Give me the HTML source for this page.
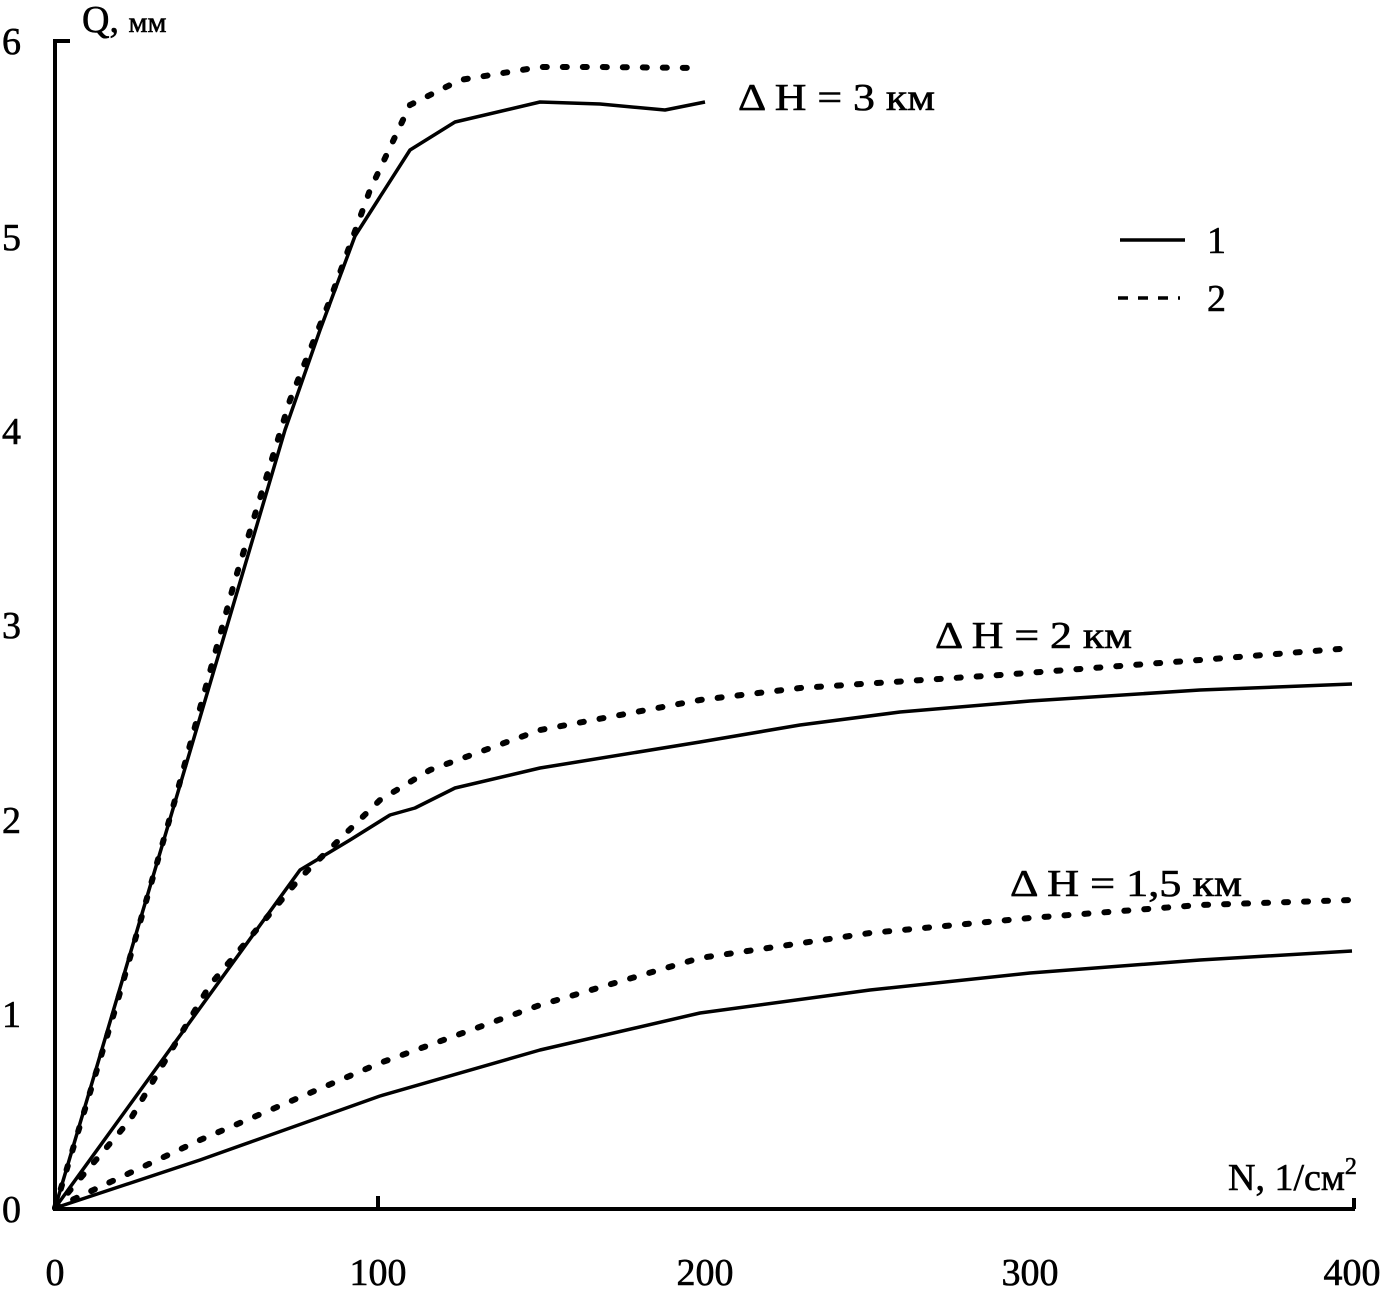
<!DOCTYPE html>
<html><head><meta charset="utf-8"><style>
html,body{margin:0;padding:0;background:#fff;}
svg{display:block;}
text{font-family:"Liberation Serif",serif;fill:#000;stroke:#000;stroke-width:0.6;}
</style></head><body>
<svg width="1387" height="1293" viewBox="0 0 1387 1293" xmlns="http://www.w3.org/2000/svg">
<g stroke="#000" stroke-width="4" fill="none">
<polyline points="70,41 55,41 55,1209 1355,1209"/>
<line x1="1354" y1="1209" x2="1354" y2="1198"/>
<line x1="378" y1="1209" x2="378" y2="1196"/>
</g>
<g stroke="#000" stroke-width="3.5" fill="none" stroke-linejoin="round">
<polyline points="55,1208 285,430 320,330 355,236 378,200 410,150 455,122 540,102 600,104 665,110 705,102"/>
<polyline points="55,1208 200,1008 300,870 350,840 390,815 415,808 455,788 540,768 700,742 800,725 900,712 1030,701 1200,690 1352,684"/>
<polyline points="55,1208 200,1160 380,1096 540,1050 700,1013 870,990 1030,973 1200,960 1352,951"/>
</g>
<g stroke="#000" stroke-width="6" fill="none" stroke-dasharray="4,16" stroke-linecap="round">
<polyline points="55,1208 115,1010 175,800 235,580 290,400 330,300 370,190 410,105 460,80 540,67 600,67 700,68"/>
<polyline points="55,1208 130,1120 210,985 300,878 380,800 430,770 540,730 700,700 800,688 1000,675 1200,660 1352,648"/>
<polyline points="55,1208 200,1140 380,1063 540,1005 700,958 870,933 1030,918 1200,905 1352,900"/>
</g>
<line x1="1120" y1="240" x2="1185" y2="240" stroke="#000" stroke-width="3.5"/>
<line x1="1118" y1="298" x2="1180" y2="298" stroke="#000" stroke-width="3.5" stroke-dasharray="10,10"/>
<text x="1207" y="253" font-size="38">1</text>
<text x="1207" y="311" font-size="38">2</text>
<g font-size="38">
<text x="2" y="54">6</text>
<text x="2" y="250">5</text>
<text x="2" y="444">4</text>
<text x="2" y="638">3</text>
<text x="2" y="833">2</text>
<text x="2" y="1027">1</text>
<text x="2" y="1222">0</text>
<text x="55" y="1285" text-anchor="middle">0</text>
<text x="378" y="1285" text-anchor="middle">100</text>
<text x="705" y="1285" text-anchor="middle">200</text>
<text x="1030" y="1285" text-anchor="middle">300</text>
<text x="1352" y="1285" text-anchor="middle">400</text>
</g>
<text x="82" y="32" font-size="38">Q, <tspan font-size="30">мм</tspan></text>
<text x="1228" y="1190" font-size="38">N, 1/см<tspan font-size="24" dy="-16">2</tspan></text>
<text x="738" y="110" font-size="38" textLength="197" lengthAdjust="spacingAndGlyphs">Δ H = 3 км</text>
<text x="935" y="648" font-size="38" textLength="197" lengthAdjust="spacingAndGlyphs">Δ H = 2 км</text>
<text x="1010" y="896" font-size="38" textLength="232" lengthAdjust="spacingAndGlyphs">Δ H = 1,5 км</text>
</svg>
</body></html>
